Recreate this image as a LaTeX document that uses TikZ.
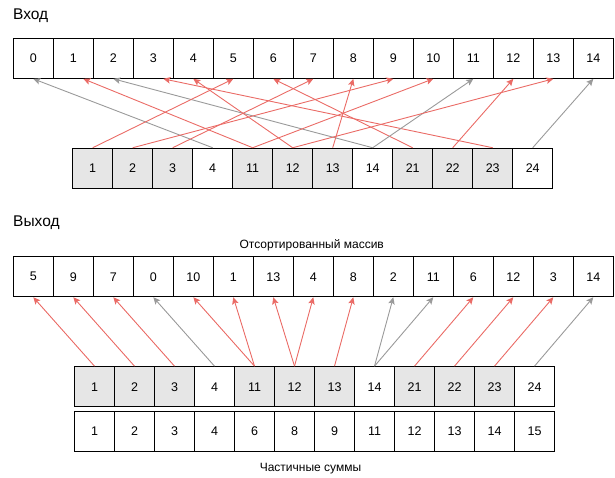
\documentclass[tikz,border=0pt]{standalone}
\usepackage{fontspec}
\setmainfont{Liberation Sans}
\usetikzlibrary{arrows.meta,calc}
\definecolor{cellgray}{HTML}{E6E6E6}
\definecolor{arrred}{HTML}{EA6B66}
\definecolor{arrgray}{HTML}{9A9A9A}
\begin{document}
\begin{tikzpicture}[x=1pt,y=-1pt,
  cell/.style={draw=black, line width=1.1pt, minimum width=40pt, minimum height=40pt, inner sep=0pt, font=\fontsize{12.5}{14}\selectfont, anchor=center},
  gcell/.style={cell, fill=cellgray},
  redarr/.style={draw=arrred, line width=0.9pt, -{Stealth[length=7pt,width=6.5pt,inset=1.5pt]}},
  grayarr/.style={draw=arrgray, line width=0.9pt, -{Stealth[length=7pt,width=6.5pt,inset=1.5pt]}},
  title/.style={font=\fontsize{15.5}{18}\selectfont, anchor=base west, inner sep=0pt},
  caption/.style={font=\fontsize{12}{14}\selectfont, anchor=base, inner sep=0pt}]
\useasboundingbox (0,0) rectangle (615,478);

\node[title] (tin) at (13,20) {Вход};
\node[title] (tout) at (13,227) {Выход};
\node[caption] (csort) at (311.7,248) {Отсортированный массив};
\node[caption] (csum) at (310.5,471.5) {Частичные суммы};

% input array
\foreach \v [count=\i from 0] in {0,1,2,3,4,5,6,7,8,9,10,11,12,13,14}
  \node[cell] (in\i) at ({33.3+40*\i},58.3) {\v};

% input buckets
\foreach \v/\s [count=\i from 0] in {1/gcell,2/gcell,3/gcell,4/cell,11/gcell,12/gcell,13/gcell,14/cell,21/gcell,22/gcell,23/gcell,24/cell}
  \node[\s] (b\i) at ({92.7+40*\i},168.3) {\v};

% output array
\foreach \v [count=\i from 0] in {5,9,7,0,10,1,13,4,8,2,11,6,12,3,14}
  \node[cell] (out\i) at ({33.3+40*\i},276.7) {\v};

% output buckets
\foreach \v/\s [count=\i from 0] in {1/gcell,2/gcell,3/gcell,4/cell,11/gcell,12/gcell,13/gcell,14/cell,21/gcell,22/gcell,23/gcell,24/cell}
  \node[\s] (c\i) at ({94.5+40*\i},386.7) {\v};

% partial sums
\foreach \v [count=\i from 0] in {1,2,3,4,6,8,9,11,12,13,14,15}
  \node[cell] (p\i) at ({94.5+40*\i},431.3) {\v};

% input connectors
\foreach \j/\t/\d/\s in {3/0/0/grayarr, 4/1/10/redarr, 7/2/0/grayarr, 10/3/10/redarr,
  5/4/0/redarr, 0/5/0/redarr, 8/6/0/redarr, 2/7/0/redarr, 6/8/0/redarr, 1/9/0/redarr,
  4/10/0/redarr, 7/11/0/grayarr, 9/12/0/redarr, 5/13/0/redarr, 11/14/0/grayarr}
  \draw[\s] (b\j.north) -- ($(in\t.south)+(\d,0)$);

% output connectors
\foreach \j/\t/\s in {0/0/redarr, 1/1/redarr, 2/2/redarr, 3/3/grayarr, 4/4/redarr, 4/5/redarr,
  5/6/redarr, 5/7/redarr, 6/8/redarr, 7/9/grayarr, 7/10/grayarr, 8/11/redarr, 9/12/redarr,
  10/13/redarr, 11/14/grayarr}
  \draw[\s] (c\j.north) -- (out\t.south);
\end{tikzpicture}
\end{document}
